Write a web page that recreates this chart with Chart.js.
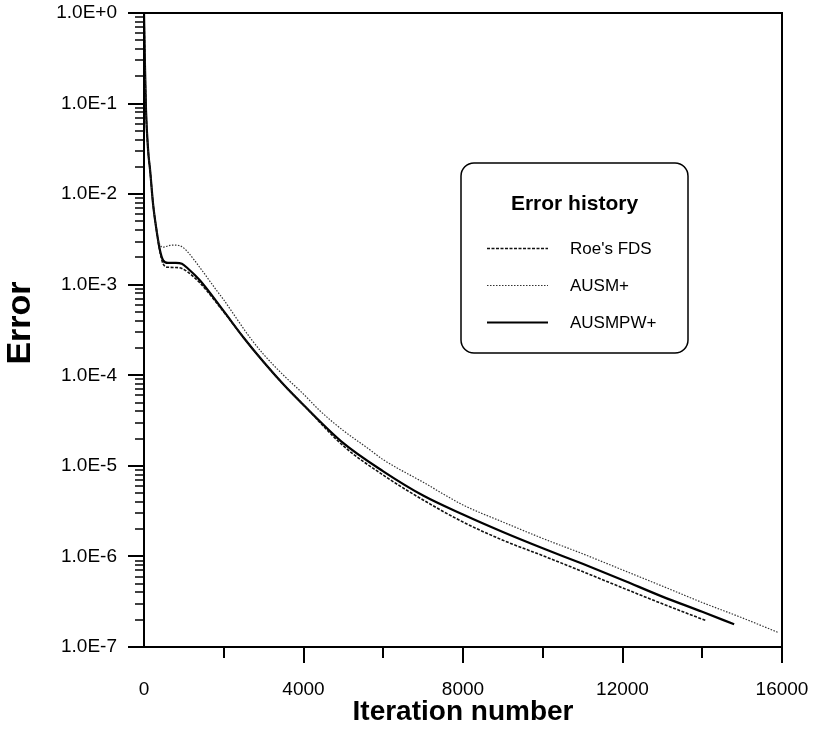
<!DOCTYPE html>
<html>
<head>
<meta charset="utf-8">
<title>Error history</title>
<script src="https://cdn.jsdelivr.net/npm/chart.js"></script>
<style>
  html, body { margin: 0; padding: 0; background: #fff; }
  #wrap { width: 814px; height: 730px; }
</style>
</head>
<body>
<div id="wrap"><canvas id="errorChart" width="814" height="730"></canvas></div>
<script>
// 반복 횟수별 오차 (Roe's FDS)
const roeIter = [0, 25, 50, 110, 150, 230, 300, 400, 480, 600, 800, 950, 1100, 1400, 2000, 2500, 3000, 3500, 4000, 5000, 6000, 7000, 8000, 9000, 10000, 11000, 12000, 13000, 14100];
const roeError = [1.0, 0.25, 0.085, 0.028, 0.019, 7.6e-3, 4.4e-3, 2.3e-3, 1.7e-3, 1.56e-3, 1.55e-3, 1.51e-3, 1.38e-3, 1.05e-3, 5.0e-4, 2.6e-4, 1.4e-4, 7.9e-5, 4.7e-5, 1.66e-5, 7.9e-6, 4.2e-6, 2.4e-6, 1.51e-6, 1.02e-6, 6.8e-7, 4.5e-7, 3.0e-7, 1.95e-7];

// AUSM+
const ausmIter = [0, 25, 50, 110, 150, 230, 300, 360, 480, 650, 800, 950, 1100, 1400, 1800, 2000, 2660, 3000, 3500, 4000, 4400, 5000, 5600, 6000, 7000, 8000, 9000, 10000, 11000, 12000, 13000, 14000, 15000, 15900];
const ausmError = [1.0, 0.25, 0.085, 0.028, 0.019, 7.6e-3, 4.6e-3, 3.1e-3, 2.6e-3, 2.72e-3, 2.74e-3, 2.63e-3, 2.29e-3, 1.55e-3, 8.9e-4, 6.8e-4, 2.6e-4, 1.7e-4, 1.0e-4, 6.2e-5, 4.1e-5, 2.45e-5, 1.58e-5, 1.17e-5, 6.6e-6, 3.7e-6, 2.4e-6, 1.58e-6, 1.07e-6, 7.1e-7, 4.7e-7, 3.1e-7, 2.1e-7, 1.45e-7];

// AUSMPW+
const ausmpwIter = [0, 25, 50, 110, 150, 230, 300, 400, 480, 600, 800, 950, 1100, 1400, 2000, 2500, 3000, 3500, 4000, 5000, 6000, 7000, 8000, 9000, 10000, 11000, 12000, 13000, 14000, 14800];
const ausmpwError = [1.0, 0.25, 0.085, 0.028, 0.019, 7.6e-3, 4.4e-3, 2.4e-3, 1.86e-3, 1.74e-3, 1.74e-3, 1.70e-3, 1.51e-3, 1.12e-3, 5.1e-4, 2.6e-4, 1.4e-4, 7.9e-5, 4.7e-5, 1.78e-5, 8.7e-6, 4.7e-6, 2.9e-6, 1.86e-6, 1.23e-6, 8.3e-7, 5.5e-7, 3.6e-7, 2.45e-7, 1.78e-7];

// 축 눈금
const xTickValues = [0, 4000, 8000, 12000, 16000];
const xMinorStep = 2000;
const yDecades = [-7, -6, -5, -4, -3, -2, -1, 0];

const FONT = '"Liberation Sans", Arial, Helvetica, sans-serif';

function toPoints(xs, ys) {
    return xs.map((v, i) => ({ x: v, y: ys[i] }));
}

function formatDecade(value) {
    const exp = Math.round(Math.log10(value));
    return `1.0E${exp >= 0 ? '+' : ''}${exp}`;
}

// 축 크기 고정 (라벨 여백 제거)
function fixBox(size) {
    return scale => {
        if (scale.isHorizontal()) scale.height = size;
        else scale.width = size;
        scale.paddingLeft = scale.paddingRight = 0;
        scale.paddingTop = scale.paddingBottom = 0;
    };
}

// 테두리, 눈금, y축 제목 표시
const frameAndTicks = {
    id: 'frameAndTicks',
    afterDraw(chart) {
        const { ctx, chartArea: a, scales: { x, y } } = chart;
        ctx.save();
        ctx.strokeStyle = '#000';
        ctx.lineCap = 'butt';

        // x축 눈금 (라벨 있는 곳은 길게)
        ctx.lineWidth = 2;
        for (let v = xMinorStep; v <= x.max; v += xMinorStep) {
            const px = Math.round(x.getPixelForValue(v));
            const len = xTickValues.includes(v) ? 16 : 11;
            ctx.beginPath();
            ctx.moveTo(px, a.bottom);
            ctx.lineTo(px, a.bottom + len);
            ctx.stroke();
        }

        // y축 로그 눈금
        yDecades.forEach(e => {
            for (let m = 1; m <= 9; m++) {
                const v = m * Math.pow(10, e);
                if (v > y.max * 1.0001) break;
                const py = Math.round(y.getPixelForValue(v));
                const len = m === 1 ? 16 : 9;
                ctx.lineWidth = m === 1 ? 2 : 1.5;
                ctx.beginPath();
                ctx.moveTo(a.left - len, py);
                ctx.lineTo(a.left, py);
                ctx.stroke();
            }
        });

        // 그래프 테두리
        ctx.lineWidth = 2;
        ctx.strokeRect(a.left, a.top, a.right - a.left, a.bottom - a.top);

        // y축 제목
        ctx.translate(21, 323);
        ctx.rotate(-Math.PI / 2);
        ctx.fillStyle = '#000';
        ctx.font = `bold 34px ${FONT}`;
        ctx.textAlign = 'center';
        ctx.textBaseline = 'middle';
        ctx.fillText('Error', 0, 0);
        ctx.restore();
    }
};

// 둥근 상자 범례
const boxLegend = {
    id: 'boxLegend',
    afterDraw(chart) {
        const { ctx } = chart;
        const box = { x: 461, y: 163, w: 227, h: 190, r: 13 };
        ctx.save();
        ctx.beginPath();
        ctx.roundRect(box.x, box.y, box.w, box.h, box.r);
        ctx.fillStyle = '#fff';
        ctx.fill();
        ctx.lineWidth = 1.5;
        ctx.strokeStyle = '#000';
        ctx.stroke();

        ctx.fillStyle = '#000';
        ctx.textAlign = 'center';
        ctx.textBaseline = 'middle';
        ctx.font = `bold 21px ${FONT}`;
        ctx.fillText('Error history', box.x + box.w / 2, 204);

        const rows = [248, 285, 322];
        ctx.font = `17px ${FONT}`;
        ctx.textAlign = 'left';
        chart.data.datasets.forEach((ds, i) => {
            const yy = rows[i] + 0.5;
            ctx.beginPath();
            ctx.setLineDash(ds.borderDash || []);
            ctx.lineWidth = ds.borderWidth;
            ctx.strokeStyle = ds.borderColor;
            ctx.moveTo(487, yy);
            ctx.lineTo(548, yy);
            ctx.stroke();
            ctx.setLineDash([]);
            ctx.fillText(ds.label, 570, rows[i] + 1);
        });
        ctx.restore();
    }
};

const ctx = document.getElementById('errorChart').getContext('2d');
new Chart(ctx, {
    type: 'line',
    data: {
        datasets: [
            {
                label: "Roe's FDS",
                data: toPoints(roeIter, roeError),
                borderColor: '#111',
                borderWidth: 1.6,
                borderDash: [3, 1.5]
            },
            {
                label: 'AUSM+',
                data: toPoints(ausmIter, ausmError),
                borderColor: '#333',
                borderWidth: 1.2,
                borderDash: [1.5, 1.5]
            },
            {
                label: 'AUSMPW+',
                data: toPoints(ausmpwIter, ausmpwError),
                borderColor: '#000',
                borderWidth: 2.2
            }
        ]
    },
    options: {
        responsive: false,
        animation: false,
        devicePixelRatio: 1,
        layout: { padding: { top: 13, right: 32, left: 0, bottom: 0 } },
        elements: {
            point: { radius: 0 },
            line: { cubicInterpolationMode: 'monotone', fill: false }
        },
        plugins: {
            legend: { display: false },
            tooltip: { enabled: false }
        },
        scales: {
            x: {
                type: 'linear',
                min: 0,
                max: 16000,
                afterFit: fixBox(83),
                grid: { display: false, drawTicks: false },
                border: { display: false },
                ticks: {
                    stepSize: 4000,
                    padding: 31,
                    color: '#000',
                    font: { family: FONT, size: 19 },
                    maxRotation: 0,
                    callback: v => xTickValues.includes(v) ? String(v) : ''
                },
                title: {
                    display: true,
                    text: 'Iteration number',
                    color: '#000',
                    font: { family: FONT, size: 28, weight: 'bold' },
                    padding: { top: 0, bottom: 1 }
                }
            },
            y: {
                type: 'logarithmic',
                min: 1e-7,
                max: 1,
                afterFit: fixBox(144),
                grid: { display: false, drawTicks: false },
                border: { display: false },
                ticks: {
                    autoSkip: false,
                    padding: 27,
                    color: '#000',
                    font: { family: FONT, size: 19 },
                    callback: v => {
                        const lg = Math.log10(v);
                        return Math.abs(lg - Math.round(lg)) < 1e-9 ? formatDecade(v) : '';
                    }
                }
            }
        }
    },
    plugins: [frameAndTicks, boxLegend]
});
</script>
</body>
</html>
